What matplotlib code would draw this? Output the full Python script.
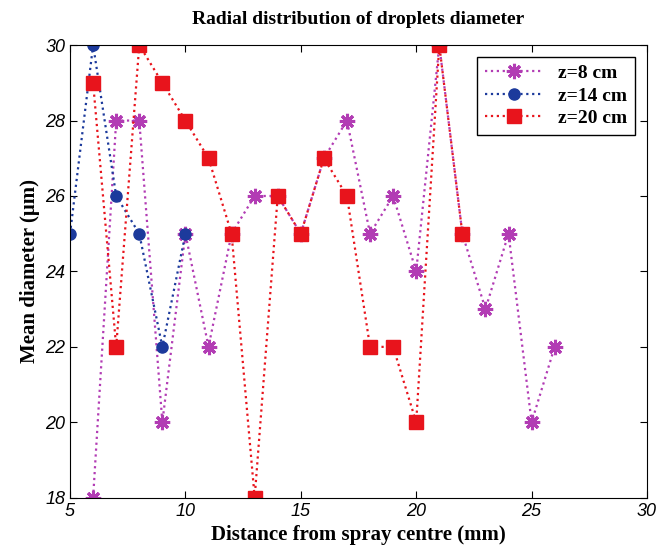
import matplotlib
matplotlib.use("Agg")

import matplotlib.pyplot as plt

# z = 8 cm
x8 = [6, 7, 8, 9, 10, 11, 12, 13, 14, 15, 16, 17, 18, 19, 20, 21, 22, 23, 24, 25, 26]
d8 = [18, 28, 28, 20, 25, 22, 25, 26, 26, 25, 27, 28, 25, 26, 24, 30, 25, 23, 25, 20, 22]

# z = 14 cm
x14 = [5, 6, 7, 8, 9, 10]
d14 = [25, 30, 26, 25, 22, 25]

# z = 20 cm
x20 = [6, 7, 8, 9, 10, 11, 12, 13, 14, 15, 16, 17, 18, 19, 20, 21, 22]
d20 = [29, 22, 30, 29, 28, 27, 25, 18, 26, 25, 27, 26, 22, 22, 20, 30, 25]

serif = "Liberation Serif"
sans = "Liberation Sans"

fig = plt.figure(figsize=(6.67, 5.5), dpi=100)
ax = fig.add_axes([0.105, 0.095, 0.865, 0.823])

ax.plot(x8, d8, ":", color="#b23cb4", lw=1.6, marker=(8, 2, 0), ms=11, mew=2.2,
        label="z=8 cm")
ax.plot(x14, d14, ":", color="#1c3a9c", lw=1.6, marker="o", ms=8,
        label="z=14 cm")
ax.plot(x20, d20, ":", color="#e8141c", lw=1.6, marker="s", ms=10,
        label="z=20 cm")

ax.set_xlim(5, 30)
ax.set_ylim(18, 30)
ax.set_xticks([5, 10, 15, 20, 25, 30])
ax.set_yticks([18, 20, 22, 24, 26, 28, 30])
ax.tick_params(direction="in", top=True, right=True, length=5)
for lab in ax.get_xticklabels() + ax.get_yticklabels():
    lab.set_fontfamily(sans)
    lab.set_fontstyle("italic")
    lab.set_fontsize(13)

ax.set_title("Radial distribution of droplets diameter", fontfamily=serif,
             fontweight="bold", fontsize=14, pad=15)
ax.set_xlabel("Distance from spray centre (mm)", fontfamily=serif,
              fontweight="bold", fontsize=15)
ax.set_ylabel("Mean diameter (\u03bcm)", fontfamily=serif,
              fontweight="bold", fontsize=15)

leg = ax.legend(loc="upper right", prop={"family": serif, "weight": "bold", "size": 14},
                fancybox=False, edgecolor="black", framealpha=1, handlelength=3,
                labelspacing=0.25, borderaxespad=0.6)
leg.get_frame().set_linewidth(1.0)

fig.savefig("out.png", dpi=100)
